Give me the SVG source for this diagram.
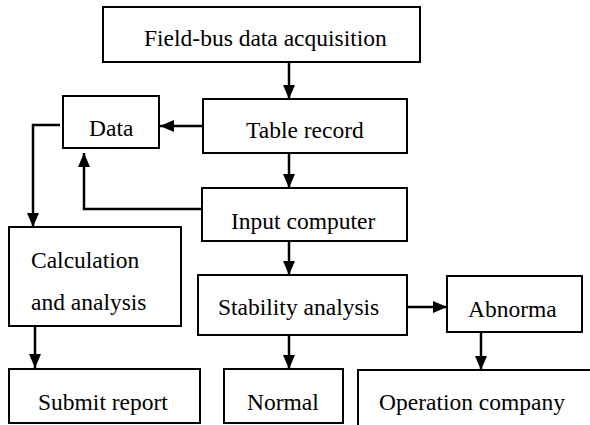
<svg xmlns="http://www.w3.org/2000/svg" width="590" height="425" viewBox="0 0 590 425">
  <style>
    .box { fill: #ffffff; stroke: #000000; stroke-width: 2; }
    .lbl { font-family: 'Liberation Serif', 'DejaVu Serif', 'Times New Roman', serif; font-size: 23.5px; fill: #000000; }
    .wire { fill: none; stroke: #000000; stroke-width: 2.5; }
  </style>
  <defs>
    <marker id="arrow" markerUnits="userSpaceOnUse" markerWidth="14" markerHeight="12" viewBox="0 0 14 12" refX="14" refY="6" orient="auto">
      <path d="M0,0 L14,6 L0,12 Z" fill="#000000"/>
    </marker>
  </defs>
  <rect width="590" height="425" fill="#ffffff"/>

  <g id="connectors">
    <path class="wire" d="M289,62 V99" marker-end="url(#arrow)"/>
    <path class="wire" d="M289,153 V188" marker-end="url(#arrow)"/>
    <path class="wire" d="M203,126 H160" marker-end="url(#arrow)"/>
    <path class="wire" d="M60,125 H33 V227" marker-end="url(#arrow)"/>
    <path class="wire" d="M202,209 H84 V153" marker-end="url(#arrow)"/>
    <path class="wire" d="M35,326 V368" marker-end="url(#arrow)"/>
    <path class="wire" d="M289,241 V275" marker-end="url(#arrow)"/>
    <path class="wire" d="M289,335 V369" marker-end="url(#arrow)"/>
    <path class="wire" d="M407,307 H447" marker-end="url(#arrow)"/>
    <path class="wire" d="M481,332 V370" marker-end="url(#arrow)"/>
  </g>

  <g id="fieldbus">
    <rect class="box" x="103" y="7" width="317" height="55"/>
    <text class="lbl" x="144" y="46" font-family="Liberation Serif, serif">Field-bus data acquisition</text>
  </g>
  <g id="table-record">
    <rect class="box" x="203" y="99" width="204" height="54"/>
    <text class="lbl" x="246" y="138">Table record</text>
  </g>
  <g id="data">
    <rect class="box" x="63" y="96" width="96" height="52"/>
    <text class="lbl" x="89" y="136">Data</text>
  </g>
  <g id="input-computer">
    <rect class="box" x="202" y="188" width="205" height="53"/>
    <text class="lbl" x="231" y="229">Input computer</text>
  </g>
  <g id="calculation">
    <rect class="box" x="9" y="227" width="172" height="99"/>
    <text class="lbl" x="31" y="268">Calculation</text>
    <text class="lbl" x="31" y="310">and analysis</text>
  </g>
  <g id="stability">
    <rect class="box" x="198" y="275" width="209" height="60"/>
    <text class="lbl" x="218" y="315">Stability analysis</text>
  </g>
  <g id="abnorma">
    <rect class="box" x="447" y="276" width="135" height="56"/>
    <text class="lbl" x="468" y="317">Abnorma</text>
  </g>
  <g id="submit-report">
    <rect class="box" x="9" y="369" width="191" height="54"/>
    <text class="lbl" x="38" y="410">Submit report</text>
  </g>
  <g id="normal">
    <rect class="box" x="224" y="369" width="119" height="54"/>
    <text class="lbl" x="247" y="410">Normal</text>
  </g>
  <g id="operation-company">
    <rect class="box" x="358" y="370" width="300" height="100"/>
    <text class="lbl" x="379" y="410">Operation company</text>
  </g>
</svg>
